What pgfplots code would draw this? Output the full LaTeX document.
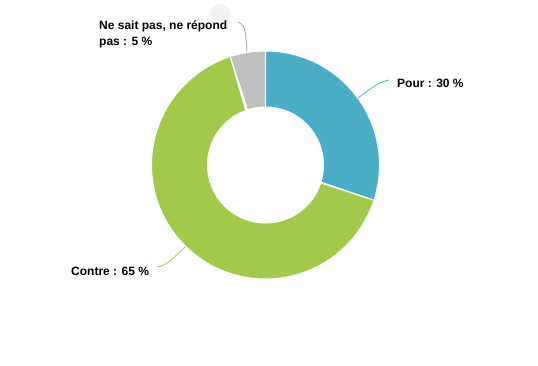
\documentclass[border=0pt]{standalone}
\usepackage{pgfplots}
\pgfplotsset{compat=1.18}
\usepackage{fontspec}
\setmainfont{Liberation Sans}
\definecolor{cPour}{HTML}{4BACC6}
\definecolor{cContre}{HTML}{A3C94A}
\definecolor{cNsp}{HTML}{C0C0C0}
% data (percent)
\def\vPour{30}
\def\vContre{65}
\def\vNsp{5}
\def\cx{265.5}
\def\cy{165}
\def\Ro{114}
\def\Ri{58}
\newcommand{\slice}[3]{% color, start pct, value pct
  \addplot[fill=#1, draw=white, line width=1pt, samples=241, domain=0:2, variable=\s]
   ({\cx + (\s<=1 ? \Ro : \Ri)*sin(3.6*(\s<=1 ? #2+\s*#3 : #2+#3-(\s-1)*#3))},
    {\cy - (\s<=1 ? \Ro : \Ri)*cos(3.6*(\s<=1 ? #2+\s*#3 : #2+#3-(\s-1)*#3))}) -- cycle;
}
\tikzset{lbl/.style={font=\fontsize{12}{16}\selectfont\bfseries, inner sep=0pt, text=black}}
\begin{document}
\begin{tikzpicture}
\begin{axis}[
  width=538pt, height=365pt, scale only axis,
  xmin=0, xmax=538, ymin=0, ymax=365, y dir=reverse,
  hide axis, clip=false
]
\fill[black!5] (axis cs:220,14) circle[radius=10pt];
\slice{cPour}{0}{\vPour}
\pgfmathsetmacro{\sB}{\vPour}
\slice{cContre}{\sB}{\vContre}
\pgfmathsetmacro{\sC}{\vPour+\vContre}
\slice{cNsp}{\sC}{\vNsp}
% leader lines
\draw[cPour, line width=0.8pt] (axis cs:358,98) .. controls (axis cs:378,83) .. (axis cs:389,80);
\draw[cContre, line width=0.8pt] (axis cs:185,247) .. controls (axis cs:166,265) .. (axis cs:157,267);
\draw[black!35, line width=0.8pt] (axis cs:247,52) .. controls (axis cs:245,26) .. (axis cs:238,22);
% labels
\node[lbl, anchor=west] at (axis cs:397,83) {Pour : 30 \%};
\node[lbl, anchor=west] at (axis cs:71,271) {Contre : 65 \%};
\node[lbl, anchor=west, align=left] at (axis cs:99,34) {Ne sait pas, ne répond\\pas : 5 \%};
\end{axis}
\path (current axis.south west) rectangle (current axis.north east);
\end{tikzpicture}
\end{document}
